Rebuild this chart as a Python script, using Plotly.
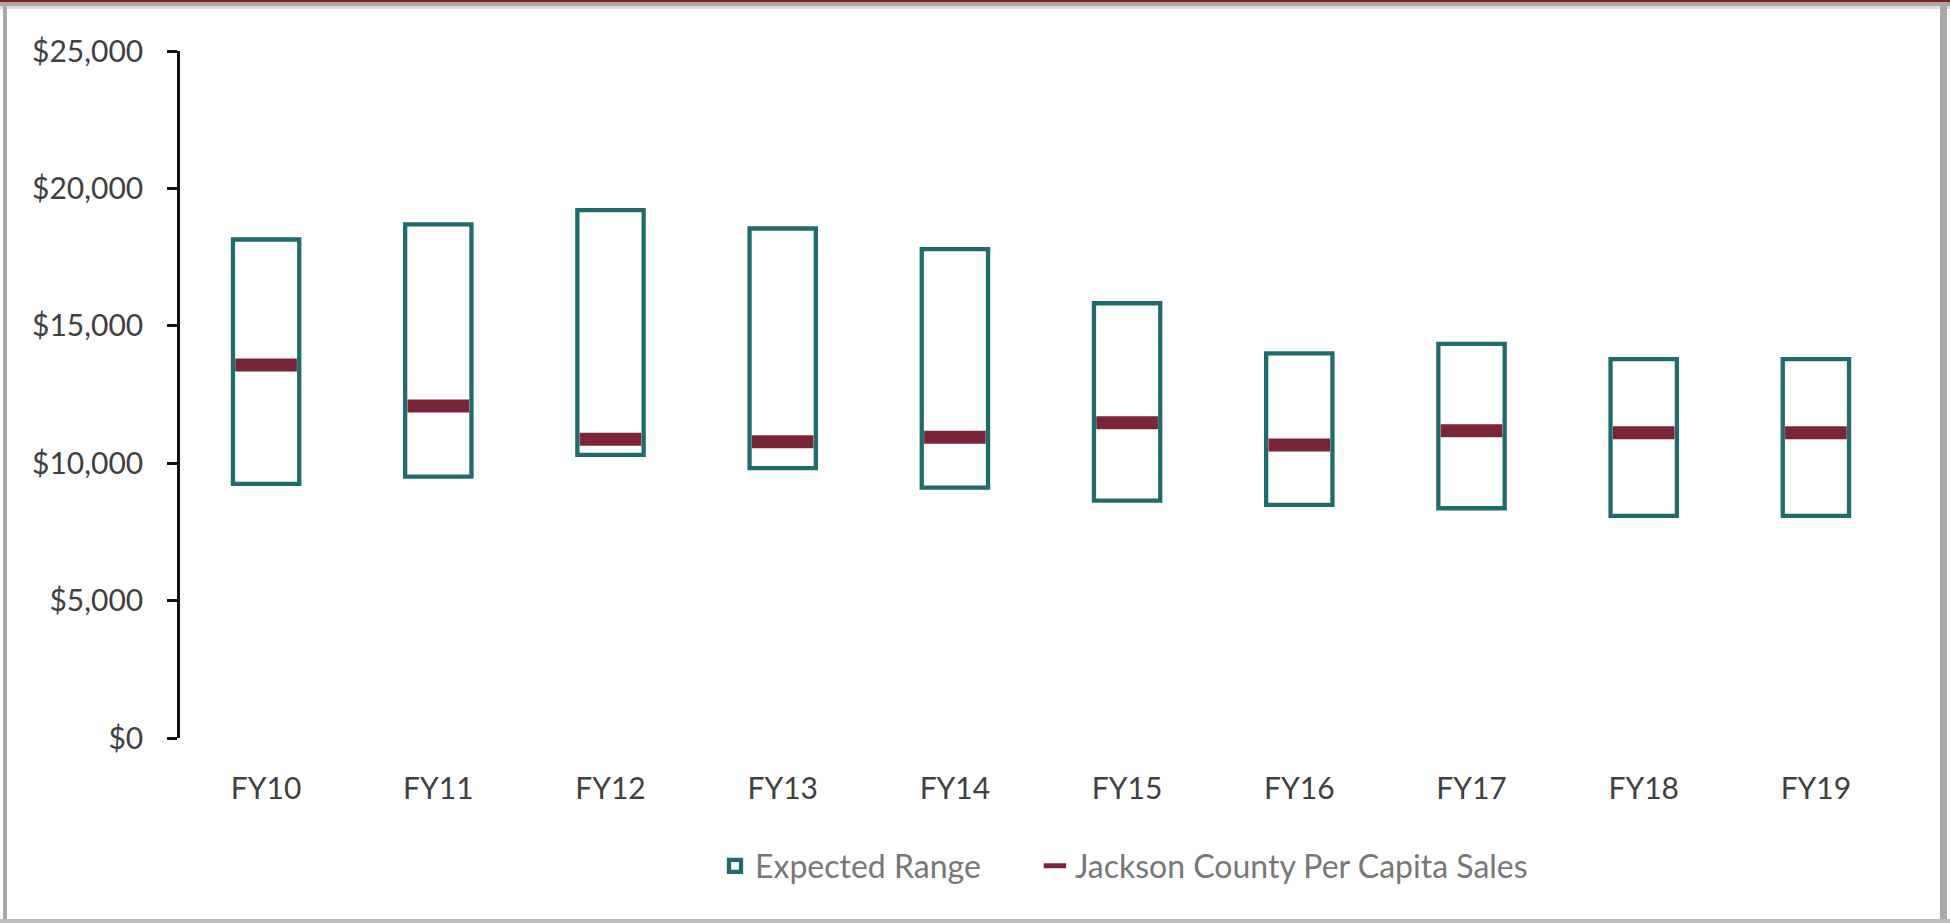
import plotly.graph_objects as go

categories = ["FY10", "FY11", "FY12", "FY13", "FY14", "FY15", "FY16", "FY17", "FY18", "FY19"]
range_high = [18140, 18690, 19210, 18540, 17790, 15820, 14000, 14340, 13790, 13790]
range_low = [9250, 9510, 10300, 9820, 9110, 8640, 8480, 8360, 8080, 8080]
per_capita = [13570, 12080, 10870, 10780, 10940, 11470, 10660, 11180, 11110, 11110]
y_tickvals = [0, 5000, 10000, 15000, 20000, 25000]
y_ticktext = ["$0", "$5,000", "$10,000", "$15,000", "$20,000", "$25,000"]

TEAL = "#216b6d"
MAROON = "#7a2438"
FONT = "Lato"

W, H = 1950, 923
L, R, T, B = 180, 48, 51, 185
PW, PH = W - L - R, H - T - B

def px_x(p):
    return (p - L) / PW

def px_y(p):
    return (H - B - p) / PH

NB = "\u00a0"

fig = go.Figure()
fig.add_trace(go.Bar(
    x=categories,
    y=[h - l for h, l in zip(range_high, range_low)],
    base=range_low,
    width=0.385,
    marker=dict(color="rgba(0,0,0,0)", line=dict(color=TEAL, width=4.3)),
    name="Expected Range" + NB * 6,
    hovertemplate="%{x}: $%{base:,.0f} – $%{customdata:,.0f}<extra>Expected Range</extra>",
    customdata=range_high,
))
fig.add_trace(go.Scatter(
    x=categories,
    y=per_capita,
    mode="markers",
    marker=dict(symbol="line-ew", size=44, color=MAROON, line=dict(color=MAROON, width=13)),
    name="Jackson County Per Capita Sales",
))

shapes = [
    # screenshot frame
    dict(type="rect", xref="paper", yref="paper", x0=px_x(0), x1=px_x(W), y0=px_y(2), y1=px_y(0),
         fillcolor="#8a1c1c", line=dict(width=0), layer="above"),
    dict(type="rect", xref="paper", yref="paper", x0=px_x(0), x1=px_x(W), y0=px_y(6), y1=px_y(2),
         fillcolor="#a9a9a9", line=dict(width=0), layer="above"),
    dict(type="rect", xref="paper", yref="paper", x0=px_x(0), x1=px_x(W), y0=px_y(9), y1=px_y(6),
         fillcolor="#dcdcdc", line=dict(width=0), layer="above"),
    dict(type="rect", xref="paper", yref="paper", x0=px_x(3), x1=px_x(7), y0=px_y(H), y1=px_y(2),
         fillcolor="#a9a9a9", line=dict(width=0), layer="above"),
    dict(type="rect", xref="paper", yref="paper", x0=px_x(1940), x1=px_x(1947), y0=px_y(H), y1=px_y(2),
         fillcolor="#a9a9a9", line=dict(width=0), layer="above"),
    dict(type="rect", xref="paper", yref="paper", x0=px_x(0), x1=px_x(W), y0=px_y(H), y1=px_y(919),
         fillcolor="#bdbdbd", line=dict(width=0), layer="above"),
]

fig.update_layout(
    width=W, height=H,
    margin=dict(l=L, r=R, t=T, b=B, pad=0),
    paper_bgcolor="white",
    plot_bgcolor="white",
    font=dict(family=FONT, size=30, color="#404040"),
    showlegend=True,
    legend=dict(
        orientation="h",
        x=px_x(715), xanchor="left",
        y=px_y(866), yanchor="middle",
        font=dict(family=FONT, size=32, color="#777777"),
        traceorder="normal",
        bgcolor="rgba(0,0,0,0)",
    ),
    xaxis=dict(
        type="category",
        range=[-0.5, 9.5],
        showline=False, showgrid=False, zeroline=False,
        ticks="", ticklabelstandoff=30,
        tickfont=dict(family=FONT, size=30, color="#404040"),
    ),
    yaxis=dict(
        range=[0, 25000],
        tickvals=y_tickvals, ticktext=y_ticktext,
        showline=True, linecolor="#111111", linewidth=2.5,
        ticks="outside", ticklen=10, tickwidth=2.5, tickcolor="#111111",
        showgrid=False, zeroline=False,
        ticklabelstandoff=18,
        tickfont=dict(family=FONT, size=30, color="#404040"),
    ),
    shapes=shapes,
    bargap=0.6,
)

fig.write_html(
    "out.html",
    config={"displayModeBar": False},
    post_script="document.body.style.margin='0';document.body.style.overflow='hidden';",
)
